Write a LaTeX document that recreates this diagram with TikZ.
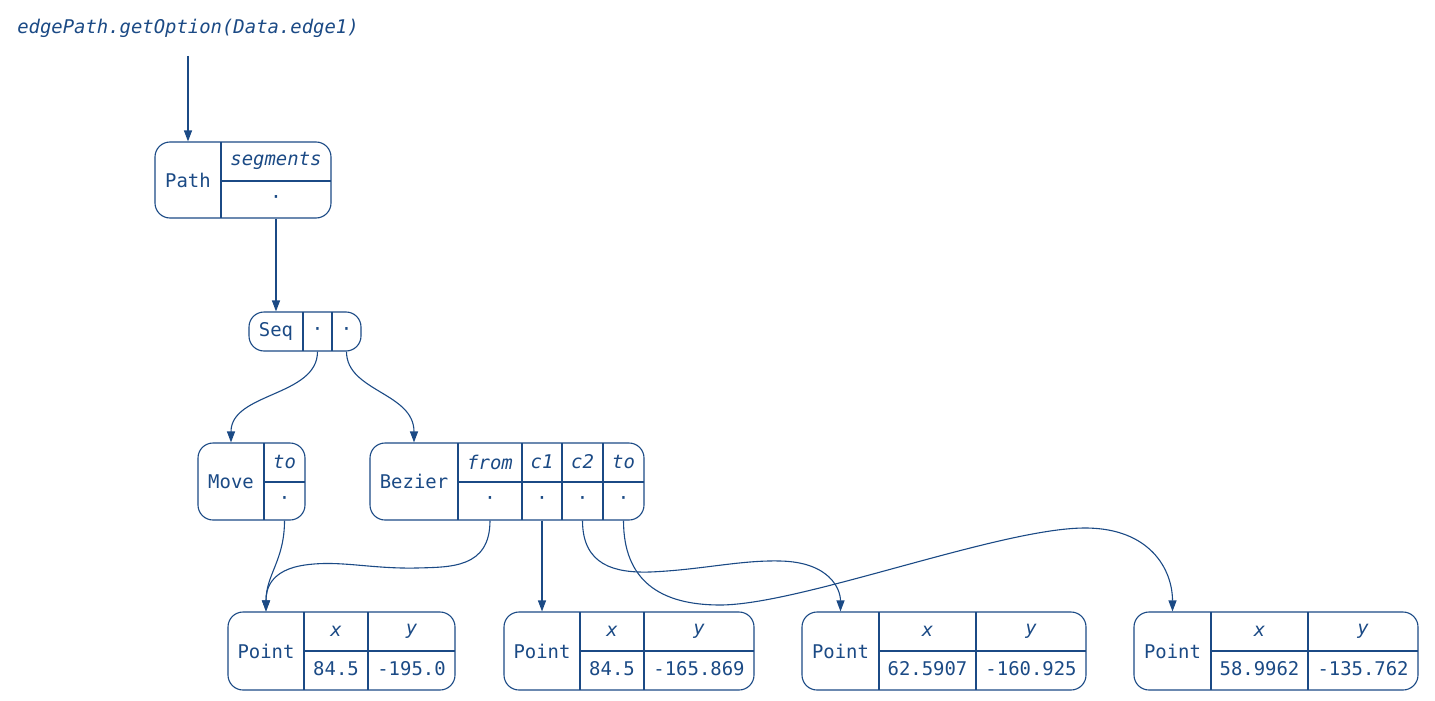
\documentclass[tikz,border=0pt]{standalone}
\usepackage{fontspec}
\setmonofont{DejaVu Sans Mono}
\usetikzlibrary{arrows.meta}
\definecolor{recblue}{HTML}{1B4A85}
\newcommand{\recfont}{\ttfamily\fontsize{18.9}{21}\selectfont}

\begin{document}
\begin{tikzpicture}[x=1pt,y=-1pt,color=recblue,line width=1.1pt]
\tikzset{cell/.style={inner sep=0pt,font=\recfont},
  field/.style={inner sep=0pt,font=\recfont\itshape},
  recbox/.style={rounded corners=15pt},
  link/.style={-{Triangle[length=11pt,width=8pt]}}}
\useasboundingbox (0,0) rectangle (1435,701);
\node[field] (title) at (188,28) {edgePath.getOption(Data.edge1)};
% Path
\draw [recbox] (155,142) rectangle (331,218);
\draw (221,142) -- (221,218) (221,181) -- (331,181);
\node[cell,minimum width=66pt,minimum height=76pt] (path) at (188,180) {Path};
\node[field] (pathseg) at (276,161) {segments};
\node[cell,minimum width=110pt,minimum height=37pt] (pathv) at (276,199.5) {·};
% Seq
\draw [recbox] (249,312) rectangle (361,351);
\draw (303,312) -- (303,351) (332,312) -- (332,351);
\node[cell,minimum width=54pt,minimum height=39pt] (seq) at (276,331.5) {Seq};
\node[cell,minimum width=29pt,minimum height=39pt] (seqa) at (317.5,331.5) {·};
\node[cell,minimum width=29pt,minimum height=39pt] (seqb) at (346.5,331.5) {·};
% Move
\draw [recbox] (198,443) rectangle (305,520);
\draw (264,443) -- (264,520) (264,482) -- (305,482);
\node[cell,minimum width=66pt,minimum height=77pt] (move) at (231,481.5) {Move};
\node[field] (movetof) at (284.5,462) {to};
\node[cell,minimum width=41pt,minimum height=38pt] (movev) at (284.5,501) {·};
% Bezier
\draw [recbox] (370,443) rectangle (644,520);
\draw (458,443) -- (458,520) (522,443) -- (522,520) (562,443) -- (562,520)
  (603,443) -- (603,520) (458,482) -- (644,482);
\node[cell,minimum width=88pt,minimum height=77pt] (bez) at (414,481.5) {Bezier};
\node[field] (bezfromf) at (490,462) {from};
\node[field] (bezc1f) at (542,462) {c1};
\node[field] (bezc2f) at (582.5,462) {c2};
\node[field] (beztof) at (623.5,462) {to};
\node[cell,minimum width=64pt,minimum height=38pt] (bezfrom) at (490,501) {·};
\node[cell,minimum width=40pt,minimum height=38pt] (bezc1) at (542,501) {·};
\node[cell,minimum width=41pt,minimum height=38pt] (bezc2) at (582.5,501) {·};
\node[cell,minimum width=41pt,minimum height=38pt] (bezto) at (623.5,501) {·};
% Point 1
\draw [recbox] (228,612) rectangle (455,690);
\draw (304,612) -- (304,690) (368,612) -- (368,690) (304,651) -- (455,651);
\node[cell,minimum width=76pt,minimum height=78pt] (pt1) at (266,651) {Point};
\node[field] (pt1x) at (336,631) {x};
\node[field] (pt1y) at (411.5,631) {y};
\node[cell] (pt1xv) at (336,669) {84.5};
\node[cell] (pt1yv) at (411.5,669) {-195.0};
% Point 2
\draw [recbox] (504,612) rectangle (754,690);
\draw (580,612) -- (580,690) (644,612) -- (644,690) (580,651) -- (754,651);
\node[cell,minimum width=76pt,minimum height=78pt] (pt2) at (542,651) {Point};
\node[field] (pt2x) at (612,631) {x};
\node[field] (pt2y) at (699,631) {y};
\node[cell] (pt2xv) at (612,669) {84.5};
\node[cell] (pt2yv) at (699,669) {-165.869};
% Point 3
\draw [recbox] (802,612) rectangle (1086,690);
\draw (879,612) -- (879,690) (976,612) -- (976,690) (879,651) -- (1086,651);
\node[cell,minimum width=77pt,minimum height=78pt] (pt3) at (840.5,651) {Point};
\node[field] (pt3x) at (927.5,631) {x};
\node[field] (pt3y) at (1031,631) {y};
\node[cell] (pt3xv) at (927.5,669) {62.5907};
\node[cell] (pt3yv) at (1031,669) {-160.925};
% Point 4
\draw [recbox] (1134,612) rectangle (1418,690);
\draw (1211,612) -- (1211,690) (1308,612) -- (1308,690) (1211,651) -- (1418,651);
\node[cell,minimum width=77pt,minimum height=78pt] (pt4) at (1172.5,651) {Point};
\node[field] (pt4x) at (1259.5,631) {x};
\node[field] (pt4y) at (1363,631) {y};
\node[cell] (pt4xv) at (1259.5,669) {58.9962};
\node[cell] (pt4yv) at (1363,669) {-135.762};
% links
\coordinate (fromvia1) at (417,568);
\coordinate (fromvia2) at (305,565);
\coordinate (c2via1) at (650,572);
\coordinate (c2via2) at (780,561);
\coordinate (tovia1) at (720,605);
\coordinate (tovia2) at (1085,528);
\draw [link,shorten <=18pt] (title.south) -- (path.north);
\draw [link] (pathv.south) -- (seq.north);
\draw [link] (seqa.south) .. controls +(0,45) and +(0,-50) .. (move.north);
\draw [link] (seqb.south) .. controls +(0,40) and +(0,-50) .. (bez.north);
\draw [link] (movev.south) .. controls +(0,40) and +(0,-37) .. (pt1.north);
\draw [link] (bezfrom.south) .. controls +(0,48) and +(33,-1) .. (fromvia1)
  .. controls +(-47,1) and +(35,-5) .. (fromvia2)
  .. controls +(-35,5) and +(0,-22) .. (pt1.north);
\draw [link] (bezc1.south) -- (pt2.north);
\draw [link] (bezc2.south) .. controls +(0,45) and +(-35,1) .. (c2via1)
  .. controls +(50,-2) and +(-40,-1) .. (c2via2)
  .. controls +(50,1) and +(0,-22) .. (pt3.north);
\draw [link] (bezto.south) .. controls +(0,60) and +(-60,0) .. (tovia1)
  .. controls +(80,0) and +(-85,0) .. (tovia2)
  .. controls +(65,0) and +(0,-42) .. (pt4.north);
\end{tikzpicture}
\end{document}
